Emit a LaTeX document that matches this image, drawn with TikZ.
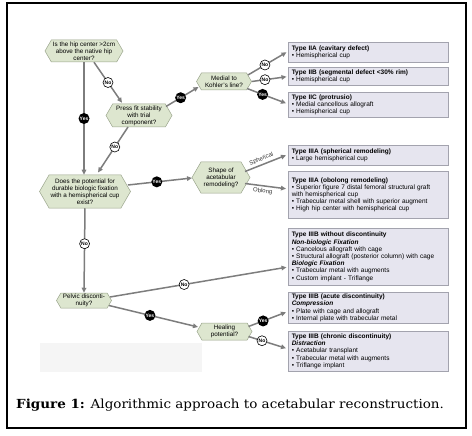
\documentclass[tikz,border=0pt]{standalone}
\usepackage{fontspec}
\setmainfont{Liberation Sans}
\newfontfamily\capfont{DejaVu Serif}
\usetikzlibrary{shapes.symbols,arrows.meta,shadows,calc}
\definecolor{qfill}{HTML}{DDE6CF}
\definecolor{qdraw}{HTML}{9AA58C}
\definecolor{bfill}{HTML}{E6E5EF}
\definecolor{bdraw}{HTML}{A3A3AE}
\definecolor{lnc}{HTML}{7D7D7D}
\begin{document}
\begin{tikzpicture}[x=1pt,y=-1pt,
 q/.style={shape=signal, signal to=west and east, signal pointer angle=120, fill=qfill, draw=qdraw, line width=0.5pt, align=center, font=\fontsize{6.3}{6.9}\selectfont, inner sep=0.5pt},
 res/.style={anchor=north west, draw=bdraw, fill=bfill, line width=0.5pt, text width=153pt, inner xsep=3.5pt, inner ysep=1.5pt, align=left, font=\fontsize{6.5}{7.2}\selectfont, drop shadow={shadow xshift=1.2pt, shadow yshift=-1.2pt, fill=black!35, opacity=1}},
 ar/.style={draw=lnc, line width=1.5pt, -{Triangle[length=5pt,width=4.5pt]}},
 yesc/.style={circle, fill=black, text=white, font=\bfseries\fontsize{5}{5}\selectfont, inner sep=0.3pt, minimum size=11pt},
 noc/.style={circle, fill=white, draw=black, line width=0.6pt, font=\bfseries\fontsize{5}{5}\selectfont, inner sep=0.3pt, minimum size=10pt},
 lbl/.style={font=\fontsize{6}{6.5}\selectfont, text=black!80, inner sep=2pt}]
\useasboundingbox (0,0) rectangle (472,436);
\fill[white] (0,0) rectangle (472,436);
\draw[line width=1.1pt] (7,3) rectangle (466,428);
\fill[black!4] (40,343) rectangle (202,372);

% question nodes
\node[q, minimum width=78pt, minimum height=22pt] (n1) at (84,51) {Is the hip center >2cm\\above the native hip\\center?};
\node[q, minimum width=66pt, minimum height=23pt] (n2) at (139,115.5) {Press fit stability\\with trial\\component?};
\node[q, minimum width=55pt, minimum height=17pt] (n3) at (224,81.5) {Medial to\\Kohler's line?};
\node[q, minimum width=91pt, minimum height=33pt] (n4) at (85,191.5) {Does the potential for\\durable biologic fixation\\with a hemispherical cup\\exist?};
\node[q, minimum width=58pt, minimum height=31pt] (n5) at (221,177.5) {Shape of\\acetabular\\remodeling?};
\node[q, minimum width=55pt, minimum height=15pt] (n6) at (84,300.5) {Pelvic disconti-\\nuity?};
\node[q, minimum width=55pt, minimum height=17pt] (n7) at (224.5,331.5) {Healing\\potential?};

% result boxes
\node[res, minimum height=20pt] (bA) at (288,42) {\textbf{Type IIA (cavitary defect)}\\• Hemispherical cup};
\node[res, minimum height=18pt] (bB) at (288,67) {\textbf{Type IIB (segmental defect <30\% rim)}\\• Hemispherical cup};
\node[res, minimum height=25pt] (bC) at (288,92) {\textbf{Type IIC (protrusio)}\\• Medial cancellous allograft\\• Hemispherical cup};
\node[res, minimum height=20pt] (bD) at (288,145) {\textbf{Type IIIA (spherical remodeling)}\\• Large hemispherical cup};
\node[res, minimum height=47pt] (bE) at (288,171) {\textbf{Type IIIA (obolong remodeling)}\\• Superior figure 7 distal femoral structural graft\\with hemispherical cup\\• Trabecular metal shell with superior augment\\• High hip center with hemispherical cup};
\node[res, minimum height=57pt] (bF) at (288,228) {\textbf{Type IIIB without discontinuity}\\\textbf{\textit{Non-biologic Fixation}}\\• Cancelous allograft with cage\\• Structural allograft (posterior column) with cage\\\textbf{\textit{Biologic Fixation}}\\• Trabecular metal with augments\\• Custom implant - Triflange};
\node[res, minimum height=31pt] (bG) at (288,292) {\textbf{Type IIIB (acute discontinuity)}\\\textbf{\textit{Compression}}\\• Plate with cage and allograft\\• Internal plate with trabecular metal};
\node[res, minimum height=40pt] (bH) at (288,331) {\textbf{Type IIIB (chronic discontinuity)}\\\textbf{\textit{Distraction}}\\• Acetabular transplant\\• Trabecular metal with augments\\• Triflange implant};

% connectors
\draw[ar] (n1.south) -- (n1.south |- n4.north) node[yesc, midway]{Yes};
\draw[ar] ($(n1.south)+(10,0)$) -- ($(n2.north)+(-17,-1)$) node[noc, pos=0.5]{No};
\draw[ar] ($(n2.center)+(27,-9)$) -- ($(n3.center)+(-25.5,5.5)$) node[yesc, pos=0.45]{Yes};
\draw[ar] ($(n2.center)+(-11,11.5)$) -- ($(n4.center)+(13,-19)$) node[noc, pos=0.44]{No};
\draw[ar] ($(n4.center)+(43,-6.5)$) -- ($(n5.center)+(-29,0.5)$) node[yesc, pos=0.45]{Yes};
\draw[ar] ($(n3.center)+(24,-6.5)$) -- ($(bA.west)+(-1.5,0)$) node[noc, pos=0.44]{No};
\draw[ar] (n3.east) -- ($(bB.west)+(-1.5,0.5)$) node[noc, pos=0.38]{No};
\draw[ar] ($(n3.center)+(23,7)$) -- ($(bC.west)+(-2,-1.5)$) node[yesc, pos=0.4]{Yes};
\draw[ar] ($(n5.center)+(24,-6)$) -- ($(bD.west)+(-2,0)$) node[lbl, sloped, above, pos=0.45]{Spherical};
\draw[ar] ($(n5.center)+(24,6)$) -- ($(bE.west)+(-2,-6)$) node[lbl, sloped, below, pos=0.45]{Oblong};
\draw[ar] (n4.south) -- (n6.north) node[noc, pos=0.42]{No};
\draw[ar] ($(n6.center)+(26,-3.5)$) -- ($(bF.west)+(-1.5,10.5)$) node[noc, pos=0.42]{No};
\draw[ar] ($(n6.center)+(25,5)$) -- ($(n7.center)+(-26.5,-4.5)$) node[yesc, pos=0.46]{Yes};
\draw[ar] ($(n7.center)+(24,-5)$) -- ($(bG.west)+(-2,4.5)$) node[yesc, pos=0.39]{Yes};
\draw[ar] ($(n7.center)+(24,5)$) -- ($(bH.west)+(-2,-3)$) node[noc, pos=0.36]{No};

% caption
\node[anchor=base west, font=\capfont\fontsize{12.5}{14}\selectfont, inner sep=0pt, xscale=1.08] (cap) at (16,408) {\textbf{Figure 1:} Algorithmic approach to acetabular reconstruction.};
\end{tikzpicture}
\end{document}
